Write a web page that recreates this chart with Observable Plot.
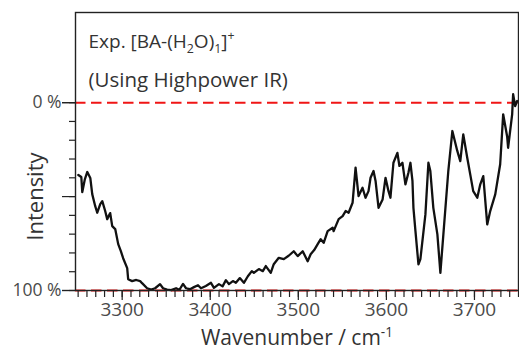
<!DOCTYPE html>
<html><head><meta charset="utf-8">
<script src="https://cdn.jsdelivr.net/npm/d3@7"></script>
<script src="https://cdn.jsdelivr.net/npm/@observablehq/plot@0.6"></script>
<style>body{margin:0;background:#fff;} svg{display:block;}</style>
</head><body><div id="chart"></div>
<script>
const wavenumber = [3250.2,3253.6,3254.7,3257.5,3260.4,3263.8,3266,3269.4,3271.7,3275.1,3277.4,3280.7,3283,3286.4,3288.7,3292.1,3295.5,3298.5,3301.1,3305.7,3306.8,3311.3,3316,3320.4,3322.6,3328.3,3333,3337.4,3343,3346.4,3351,3355.5,3361.2,3365,3369.1,3372.5,3377,3381.5,3386.1,3389.5,3395,3400.8,3404.2,3409.9,3414,3417.8,3421.2,3425.7,3429.1,3433.6,3438.2,3442.7,3447.2,3449.5,3455.2,3459.7,3463.1,3468.7,3472.1,3477.8,3483.5,3489,3494.8,3499.3,3505,3510.6,3514,3518,3522,3525.4,3528.8,3533.3,3539,3540.1,3545.8,3550.3,3553.7,3557.1,3561.6,3565,3568.4,3572.9,3576.3,3579.7,3582,3585.4,3587.7,3591.1,3595.7,3599,3602.4,3604.6,3608,3612.5,3614.8,3618.2,3621.6,3625,3627.3,3629.6,3630.7,3633,3636.4,3638.6,3644.3,3647.7,3649.9,3653.3,3657.9,3661.3,3664.7,3670.3,3674.9,3680.5,3683.9,3687.3,3691.8,3695.2,3698.6,3703.2,3706.6,3710,3714.5,3717.9,3723.6,3729.2,3732.6,3737.1,3738.2,3742.8,3743.9,3746.2,3748.5];
const intensity = [38.5,39.6,47.6,41,36.9,40.1,48.7,55.1,58.6,54,52.4,57.7,62,58.8,65.7,67.3,75.3,79,82.8,88.1,94,95,94.4,95,96.1,98.8,99.5,98.8,96.6,98.8,99.5,99.8,98.8,99.6,96.5,98.8,99.3,98.2,97.2,98.8,97.6,95.9,98.6,96.6,97.8,94.5,96.6,95,95.9,93.4,95.9,92.4,89.7,90.6,88.6,89.7,87,90.6,86,82.6,83.3,81.5,79.1,81.7,79.1,84.4,80.7,78.5,75.3,72.7,74.6,68.4,66.6,68.4,62,60.4,57.7,58.6,53.3,34.6,49.7,45.3,50.6,47.1,40,36.4,41.7,56,51.5,40,47.1,50.6,32,26.7,33.7,32,43.5,37.3,32,41.7,56,68.4,86.1,83.3,59.5,32,36.4,56,70.1,90.6,70.1,36.4,15.1,25.7,31.1,16.9,29.3,38.2,47.1,50.6,43.5,39.1,64.8,57.7,48.8,32.8,6.2,18,24,6.2,-4.5,1.8,-0.9];

const xMajorTicks = [3300, 3400, 3500, 3600, 3700];
const xMinorTicks = d3.range(3250, 3751, 10);
const yLabeledTicks = [0, 100];
const yTickLabels = ["0 %", "100 %"];
const yMajorTicks = [0, 50, 100];
const yMinorTicks = d3.range(0, 101, 10);
const referenceLevels = [0, 100];
const annotationLines = ["Exp. [BA-(H_2O)_1]^+", "(Using Highpower IR)"];
const xTitle = "Wavenumber / cm^{-1}";
const yTitle = "Intensity";

const data = wavenumber.map((w, i) => ({w, v: intensity[i]}));
const FONT = "'Open Sans', 'DejaVu Sans', sans-serif";

const chart = Plot.plot({
  width: 519, height: 349,
  marginLeft: 75, marginRight: 1, marginTop: 12, marginBottom: 59,
  style: {fontFamily: FONT, background: "#fff", overflow: "visible"},
  x: {domain: [3247, 3750]},
  y: {domain: [100, -48]},
  marks: [
    Plot.ruleY(referenceLevels, {stroke: "#f01515", strokeWidth: 2, strokeDasharray: "10.5,5.5"}),
    Plot.line(data, {x: "w", y: "v", stroke: "#111", strokeWidth: 2.3, strokeLinejoin: "round"}),
    Plot.frame({stroke: "#222", strokeWidth: 1.4}),
    Plot.axisX({ticks: xMinorTicks, tickSize: 7, text: null, label: null, stroke: "#222", strokeWidth: 1.2}),
    Plot.axisX({ticks: xMajorTicks, tickSize: 10, tickPadding: 2, tickFormat: d => String(d), label: null, fontSize: 19, fill: "#4a4a4a", stroke: "#222", strokeWidth: 1.2}),
    Plot.axisY({ticks: yMinorTicks, tickSize: 6, text: null, label: null, stroke: "#222", strokeWidth: 1.2}),
    Plot.axisY({ticks: yMajorTicks, tickSize: 13, text: null, label: null, stroke: "#222", strokeWidth: 1.2}),
    Plot.axisY({ticks: yLabeledTicks, tickSize: 13, tickPadding: 1, tickFormat: d => yTickLabels[yLabeledTicks.indexOf(d)], label: null, fontSize: 17.5, fill: "#4a4a4a", stroke: "#222", strokeWidth: 1.2}),
    Plot.text([annotationLines[0]], {frameAnchor: "top-left", dx: 13, dy: 35, lineAnchor: "bottom", textAnchor: "start", fontSize: 19, fill: "#333"}),
    Plot.text([annotationLines[1]], {frameAnchor: "top-left", dx: 13, dy: 74, lineAnchor: "bottom", textAnchor: "start", fontSize: 20.5, fill: "#333"}),
    Plot.text([xTitle], {frameAnchor: "bottom", dy: 54, lineAnchor: "bottom", fontSize: 21, fill: "#333"}),
    Plot.text([yTitle], {frameAnchor: "left", y: [50], dx: -40, rotate: -90, textAnchor: "middle", lineAnchor: "middle", fontSize: 22, fill: "#333"})
  ]
});
document.getElementById("chart").appendChild(chart);

// render _x subscripts and ^x / ^{..} superscripts as tspans
function richify(raw) {
  const el = Array.from(chart.querySelectorAll("text")).find(t => t.textContent === raw);
  if (!el) return;
  const fs = parseFloat(getComputedStyle(el).fontSize) || 16;
  const parts = [];
  const re = /([_^])(?:\{([^}]*)\}|(.))/g;
  let last = 0, m;
  while ((m = re.exec(raw))) {
    if (m.index > last) parts.push({t: raw.slice(last, m.index), k: "n"});
    parts.push({t: m[2] ?? m[3], k: m[1] === "_" ? "sub" : "sup"});
    last = re.lastIndex;
  }
  if (last < raw.length) parts.push({t: raw.slice(last), k: "n"});
  el.textContent = "";
  let shift = 0;
  for (const p of parts) {
    const ts = document.createElementNS("http://www.w3.org/2000/svg", "tspan");
    ts.textContent = p.t;
    const target = p.k === "sub" ? fs * 0.28 : p.k === "sup" ? -fs * 0.38 : 0;
    if (target !== shift) ts.setAttribute("dy", target - shift);
    shift = target;
    if (p.k !== "n") ts.setAttribute("font-size", fs * 0.65);
    el.appendChild(ts);
  }
}
richify(annotationLines[0]);
richify(xTitle);
</script></body></html>
